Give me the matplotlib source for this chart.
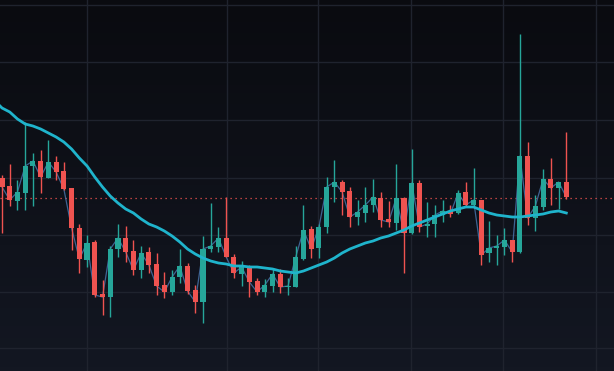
import matplotlib as mpl
import matplotlib.pyplot as plt
from matplotlib.colors import LinearSegmentedColormap
import numpy as np

mpl.use("Agg")

# OHLC values (price levels, arbitrary units)
opens = [193, 185, 170, 178, 205, 210, 193, 209, 200, 183, 143, 111, 129, 77, 74, 122, 133, 120, 101, 119,
         107, 86, 79, 94, 105, 81, 69, 122, 124, 133, 114, 97, 103, 90, 79, 85, 97, 84, 84, 112,
         142, 123, 144, 184, 189, 180, 154, 158, 166, 173, 152, 148, 173, 138, 188, 145, 147, 156, 160, 158,
         179, 166, 171, 118, 123, 124, 131, 119, 215, 153, 164, 192, 183, 189]
highs = [196, 207, 191, 249, 218, 221, 231, 215, 209, 183, 147, 136, 131, 91, 125, 147, 145, 131, 125, 124,
         118, 99, 101, 122, 108, 86, 135, 168, 144, 174, 117, 110, 106, 93, 92, 102, 102, 93, 125, 166,
         145, 147, 194, 211, 191, 184, 171, 184, 192, 179, 170, 207, 174, 222, 191, 169, 166, 171, 166, 181,
         189, 203, 171, 150, 136, 143, 131, 337, 229, 176, 202, 213, 189, 239]
lows = [138, 165, 161, 161, 165, 178, 193, 191, 181, 121, 98, 104, 74, 56, 54, 114, 109, 96, 93, 98,
        76, 73, 76, 88, 77, 58, 48, 119, 119, 114, 93, 85, 74, 76, 74, 79, 78, 76, 84, 111,
        113, 113, 138, 169, 156, 144, 146, 149, 159, 144, 144, 141, 98, 137, 139, 134, 134, 149, 154, 157,
        164, 164, 106, 109, 106, 116, 109, 118, 146, 140, 161, 166, 162, 172]
closes = [184, 171, 179, 205, 210, 194, 209, 199, 182, 143, 112, 128, 76, 74, 122, 133, 119, 101, 118, 106,
          85, 79, 94, 105, 80, 69, 122, 125, 133, 114, 98, 104, 89, 79, 86, 97, 84, 85, 114, 141,
          122, 144, 184, 189, 179, 154, 159, 166, 174, 151, 149, 173, 138, 188, 144, 147, 156, 160, 157, 178,
          166, 171, 116, 123, 125, 131, 119, 215, 153, 165, 192, 183, 189, 174]
# moving average as drawn on the chart
ma = [263, 259, 252, 247, 245, 242, 238, 234, 229, 222, 213, 205, 194, 184, 175, 168, 162, 158, 152, 147,
      144, 140, 135, 129, 122, 117, 113, 110, 108, 107, 105, 105, 104, 104, 103, 102, 100, 99, 98, 100,
      103, 106, 109, 113, 118, 122, 125, 128, 130, 133, 135, 138, 141, 145, 148, 151, 154, 157, 160, 162,
      164, 164, 161, 158, 156, 155, 154, 154, 155, 156, 157, 159, 160, 158]
last_price = 173

# grid positions (candle index / price level)
grid_x = [11.0, 29.1, 40.9, 52.9, 64.8, 76.8]
grid_y = [23, 79, 136, 193, 251, 309, 366]

up_color = "#26a69a"
down_color = "#ef5350"

x = np.arange(len(opens))
o = np.array(opens)
h = np.array(highs)
l = np.array(lows)
c = np.array(closes)
colors = np.where(c >= o, up_color, down_color)

fig = plt.figure(figsize=(6.14, 3.71), dpi=100)
ax = fig.add_axes([0, 0, 1, 1])
ax.set_axis_off()
ax.set_xlim(-0.26, 79.17)
ax.set_ylim(0, 371)

# gradient background, darker at top
cmap = LinearSegmentedColormap.from_list("bg", ["#0a0b10", "#131722"])
ax.imshow(np.linspace(0, 1, 100).reshape(-1, 1), cmap=cmap, aspect="auto",
          extent=[-0.26, 79.17, 0, 371], zorder=0)

# grid
for gx in grid_x:
    ax.axvline(gx, color="#1f232e", linewidth=1, zorder=1)
for gy in grid_y:
    ax.axhline(gy, color="#1f232e", linewidth=1, zorder=1)

# wicks and bodies
ax.vlines(x, l, h, colors=colors, linewidth=1, zorder=3)
body = np.maximum(np.abs(c - o), 1.2)
ax.bar(x, body, bottom=np.minimum(o, c), width=0.66, color=colors, linewidth=0, zorder=4)

# thin close line and moving average
ax.plot(x, c, color="#4a78b0", linewidth=0.9, alpha=0.8, zorder=2)
ax.plot(np.concatenate([[-0.26], x]), [ma[0] + 2] + ma, color="#1fb4cc", linewidth=2, zorder=5)

# last price line
ax.axhline(last_price, color=down_color, linewidth=0.9, linestyle=(0, (1, 3)), zorder=1)

fig.savefig("out.png", dpi=100)
